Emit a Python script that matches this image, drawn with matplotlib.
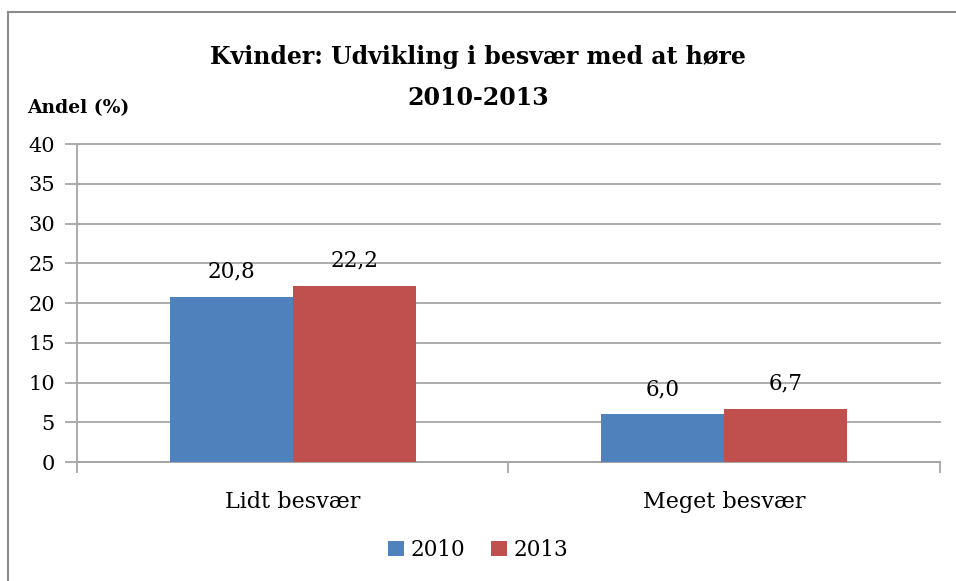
import numpy as np
import matplotlib.pyplot as plt
from matplotlib.lines import Line2D

categories = ['Lidt besvær', 'Meget besvær']
years = ['2010', '2013']
values_2010 = [20.8, 6.0]
values_2013 = [22.2, 6.7]
colors = ['#4F81BD', '#C0504D']

plt.rcParams['font.family'] = ['DejaVu Serif']

fig = plt.figure(figsize=(9.56, 5.81), dpi=100)
ax = fig.add_axes([0.0805, 0.2048, 0.9025, 0.5473])

# ydre ramme
fig.add_artist(Line2D([8/956, 8/956], [0, 1 - 12/581], color='#8C8C8C', lw=1.5))
fig.add_artist(Line2D([8/956, 1], [1 - 12/581, 1 - 12/581], color='#8C8C8C', lw=1.5))

x = np.arange(len(categories))
w = 0.285
b1 = ax.bar(x - w/2, values_2010, w, color=colors[0], label=years[0], zorder=3)
b2 = ax.bar(x + w/2, values_2013, w, color=colors[1], label=years[1], zorder=3)

for bars, vals in [(b1, values_2010), (b2, values_2013)]:
    for r, v in zip(bars, vals):
        ax.text(r.get_x() + r.get_width()/2, v + 1.75, f'{v:.1f}'.replace('.', ','),
                ha='center', va='bottom', fontsize=15.5)

ax.set_xlim(-0.5, 1.5)
ax.set_ylim(0, 40)
ax.set_yticks(range(0, 41, 5))
ax.yaxis.grid(True, color='#A6A6A6', lw=1.3, zorder=0)
for gl in ax.get_ygridlines():
    gl.set_clip_on(False)
ax.tick_params(axis='y', labelsize=15, length=9, width=1.3, color='#A6A6A6', pad=7)

ax.set_xticks(x)
ax.set_xticklabels(categories, fontsize=16)
ax.set_xticks([-0.5, 0.5, 1.5], minor=True)
ax.tick_params(axis='x', which='major', length=0, pad=21)
ax.tick_params(axis='x', which='minor', length=8, width=1.3, color='#A6A6A6')

for s in ['top', 'right']:
    ax.spines[s].set_visible(False)
for s in ['left', 'bottom']:
    ax.spines[s].set_color('#A6A6A6')
    ax.spines[s].set_linewidth(1.3)

fig.text(0.5, 1 - 57/581, 'Kvinder: Udvikling i besvær med at høre',
         ha='center', va='center', fontsize=17, fontweight='bold')
fig.text(0.5, 1 - 98/581, '2010-2013', ha='center', va='center',
         fontsize=17, fontweight='bold')
fig.text(27/956, 1 - 108/581, 'Andel (%)', ha='left', va='center',
         fontsize=13.5, fontweight='bold')

fig.legend(loc='center', bbox_to_anchor=(0.5, 1 - 550/581), ncol=2, frameon=False,
           fontsize=15.5, handlelength=0.75, handleheight=0.75, handletextpad=0.3,
           columnspacing=1.2)

fig.savefig('out.png', dpi=100)
